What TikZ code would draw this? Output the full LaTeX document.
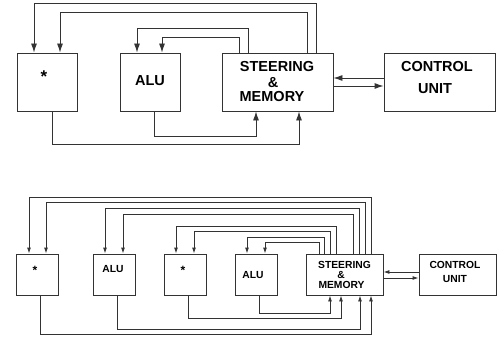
\documentclass[tikz,border=0pt]{standalone}
\usepackage{fontspec}
\setmainfont{Liberation Sans}
\usetikzlibrary{arrows.meta}
\tikzset{
  blk/.style={draw=black!80, line width=0.9pt, inner sep=0pt},
  wire/.style={draw=black!80, line width=0.9pt},
  bigtip/.style={wire, -{Latex[length=9pt,width=6pt]}},
  smalltip/.style={wire, -{Latex[length=6pt,width=4pt]}},
  bigtxt/.style={inner sep=0pt, font=\fontsize{14.5}{16}\selectfont\bfseries},
  smalltxt/.style={inner sep=0pt, font=\fontsize{10.3}{12}\selectfont\bfseries},
}
\begin{document}
\begin{tikzpicture}[x=1pt,y=-1pt]
\useasboundingbox (0,0) rectangle (498,337);
% ---------- upper diagram ----------
\node[blk, minimum width=60pt, minimum height=58pt] (s1) at (47,82) {};
\node[blk, minimum width=60pt, minimum height=58pt] (alu) at (150,82) {};
\node[blk, minimum width=111pt, minimum height=58pt] (sm) at (277.5,82) {};
\node[blk, minimum width=111pt, minimum height=58pt] (cu) at (439.5,82) {};
\node[bigtxt, anchor=base, font=\fontsize{17}{18}\selectfont\bfseries] (s1t) at (44,82.5) {*};
\node[bigtxt] (alut) at (150,81) {ALU};
\node[bigtxt] (smt1) at (277,67) {STEERING};
\node[bigtxt] (smt2) at (273,83) {\&};
\node[bigtxt] (smt3) at (272,97) {MEMORY};
\node[bigtxt] (cut1) at (437,67) {CONTROL};
\node[bigtxt] (cut2) at (435,89) {UNIT};
\draw[bigtip] (316,0 |- sm.north) |- (34,3) -- (34,0 |- s1.north);
\draw[bigtip] (307,0 |- sm.north) |- (60,12) -- (60,0 |- s1.north);
\draw[bigtip] (248,0 |- sm.north) |- (137,28) -- (137,0 |- alu.north);
\draw[bigtip] (239,0 |- sm.north) |- (162,37) -- (162,0 |- alu.north);
\draw[bigtip] (154,0 |- alu.south) |- (256,136) -- (256,0 |- sm.south);
\draw[bigtip] (52,0 |- s1.south) |- (299,144) -- (299,0 |- sm.south);
\draw[bigtip] (cu.west |- 0,78) -- (sm.east |- 0,78);
\draw[bigtip] (sm.east |- 0,86) -- (cu.west |- 0,86);
% ---------- lower diagram ----------
\node[blk, minimum width=42pt, minimum height=41pt] (b1) at (37,274.5) {};
\node[blk, minimum width=42pt, minimum height=41pt] (b2) at (114,274.5) {};
\node[blk, minimum width=42pt, minimum height=41pt] (b3) at (185,274.5) {};
\node[blk, minimum width=42pt, minimum height=41pt] (b4) at (256,274.5) {};
\node[blk, minimum width=77pt, minimum height=41pt] (bsm) at (344.5,274.5) {};
\node[blk, minimum width=77pt, minimum height=41pt] (bcu) at (457.5,274.5) {};
\node[smalltxt, anchor=base, font=\fontsize{12}{13}\selectfont\bfseries] (b1t) at (35,274.5) {*};
\node[smalltxt] (b2t) at (113,269) {ALU};
\node[smalltxt, anchor=base, font=\fontsize{12}{13}\selectfont\bfseries] (b3t) at (183,274.5) {*};
\node[smalltxt] (b4t) at (253,275) {ALU};
\node[smalltxt] (bsmt1) at (344.5,265) {STEERING};
\node[smalltxt] (bsmt2) at (341,275) {\&};
\node[smalltxt] (bsmt3) at (341.5,285) {MEMORY};
\node[smalltxt] (bcut1) at (455,265) {CONTROL};
\node[smalltxt] (bcut2) at (455,279) {UNIT};
\draw[smalltip] (371,0 |- bsm.north) |- (29,197) -- (29,0 |- b1.north);
\draw[smalltip] (365,0 |- bsm.north) |- (46,202) -- (46,0 |- b1.north);
\draw[smalltip] (359,0 |- bsm.north) |- (105,208) -- (105,0 |- b2.north);
\draw[smalltip] (353,0 |- bsm.north) |- (123,214) -- (123,0 |- b2.north);
\draw[smalltip] (336,0 |- bsm.north) |- (176,226) -- (176,0 |- b3.north);
\draw[smalltip] (330,0 |- bsm.north) |- (194,231) -- (194,0 |- b3.north);
\draw[smalltip] (324,0 |- bsm.north) |- (247,237) -- (247,0 |- b4.north);
\draw[smalltip] (319,0 |- bsm.north) |- (265,242) -- (265,0 |- b4.north);
\draw[smalltip] (259,0 |- b4.south) |- (330,313) -- (330,0 |- bsm.south);
\draw[smalltip] (188,0 |- b3.south) |- (341,318) -- (341,0 |- bsm.south);
\draw[smalltip] (117,0 |- b2.south) |- (360,329) -- (360,0 |- bsm.south);
\draw[smalltip] (40,0 |- b1.south) |- (371,334) -- (371,0 |- bsm.south);
\draw[smalltip] (bcu.west |- 0,272) -- (bsm.east |- 0,272);
\draw[smalltip] (bsm.east |- 0,278) -- (bcu.west |- 0,278);
\end{tikzpicture}
\end{document}
